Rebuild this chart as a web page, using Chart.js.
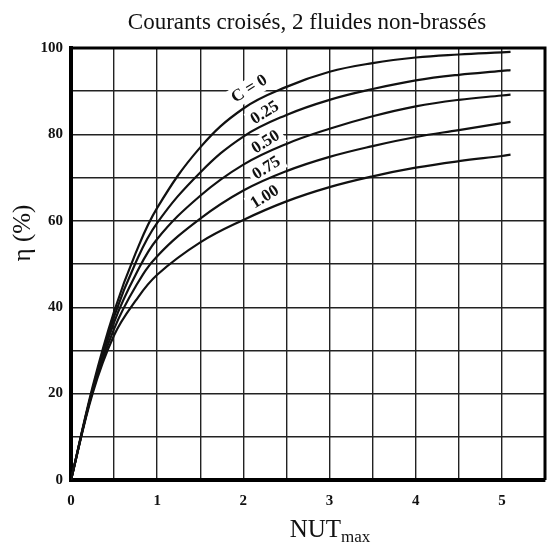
<!DOCTYPE html>
<html>
<head>
<meta charset="utf-8">
<script src="https://cdn.jsdelivr.net/npm/chart.js@4"></script>
<style>
html,body{margin:0;padding:0;background:#fff;}
#wrap{width:557px;height:544px;position:relative;}
</style>
</head>
<body>
<div id="wrap"><canvas id="c" width="557" height="544"></canvas></div>
<script>
// ---- data ----
const ntu = [0, 0.25, 0.5, 0.75, 1, 1.5, 2, 2.5, 3, 3.5, 4, 4.5, 5, 5.1];
const etaC000 = [0, 21.5, 39, 52.5, 63, 77, 86, 91, 94.5, 96.5, 97.8, 98.5, 99, 99.1];
const etaC025 = [0, 21, 37.8, 50.3, 59.5, 71.2, 79.5, 84.5, 88, 90.5, 92.5, 93.8, 94.7, 94.9];
const etaC050 = [0, 20.8, 36.5, 47.5, 55.8, 65.8, 73, 77.8, 81.3, 84.2, 86.5, 88, 89, 89.2];
const etaC075 = [0, 20.5, 35, 44.8, 51.8, 60.5, 67, 71.5, 74.8, 77.3, 79.4, 81, 82.6, 82.9];
const etaC100 = [0, 20, 33.5, 41.5, 47.5, 55, 60.2, 64.5, 67.8, 70.3, 72.3, 73.8, 75, 75.3];
const curveLabels = ["C = 0", "0.25", "0.50", "0.75", "1.00"];
const labelX = [2.07, 2.25, 2.26, 2.27, 2.25];
const labelY = [90.5, 85, 78.2, 72.2, 65.5];
const xTickLabels = [0, 1, 2, 3, 4, 5];
const yTickLabels = [0, 20, 40, 60, 80, 100];
const titleText = "Courants croisés, 2 fluides non-brassés";
const yTitle = "η (%)";
const xTitleMain = "NUT";
const xTitleSub = "max";

const series = [etaC000, etaC025, etaC050, etaC075, etaC100];
const datasets = series.map((s, i) => ({
  label: curveLabels[i],
  data: ntu.map((x, j) => ({x: x, y: s[j]})),
  borderColor: '#111',
  borderWidth: 2.2,
  pointRadius: 0,
  fill: false,
  tension: 0.4
}));

const SERIF = '"Liberation Serif", "DejaVu Serif", serif';
const LABEL_FONT = 'bold 17px ' + SERIF;

const decor = {
  id: 'decor',
  beforeDatasetsDraw(chart) {
    const ctx = chart.ctx, xs = chart.scales.x, ys = chart.scales.y;
    ctx.save();
    ctx.font = LABEL_FONT;
    curveLabels.forEach((t, i) => {
      const px = xs.getPixelForValue(labelX[i]);
      const py = ys.getPixelForValue(labelY[i]);
      const w = ctx.measureText(t).width;
      ctx.save();
      ctx.translate(px, py);
      ctx.rotate(-32 * Math.PI / 180);
      ctx.fillStyle = '#fff';
      ctx.fillRect(-w / 2 - 4, -10, w + 8, 20);
      ctx.restore();
    });
    ctx.restore();
  },
  afterDatasetsDraw(chart) {
    const ctx = chart.ctx, xs = chart.scales.x, ys = chart.scales.y, a = chart.chartArea;
    ctx.save();
    ctx.font = LABEL_FONT;
    ctx.fillStyle = '#111';
    ctx.textAlign = 'center';
    ctx.textBaseline = 'middle';
    curveLabels.forEach((t, i) => {
      const px = xs.getPixelForValue(labelX[i]);
      const py = ys.getPixelForValue(labelY[i]);
      ctx.save();
      ctx.translate(px, py);
      ctx.rotate(-32 * Math.PI / 180);
      ctx.fillText(t, 0, 0);
      ctx.restore();
    });
    // top & right frame
    ctx.strokeStyle = '#000';
    ctx.lineWidth = 3;
    ctx.beginPath();
    ctx.moveTo(a.left, a.top);
    ctx.lineTo(a.right, a.top);
    ctx.lineTo(a.right, a.bottom);
    ctx.stroke();
    ctx.restore();
  },
  afterDraw(chart) {
    const ctx = chart.ctx;
    ctx.save();
    ctx.fillStyle = '#111';
    // title
    ctx.font = '23px ' + SERIF;
    ctx.textAlign = 'center';
    ctx.textBaseline = 'alphabetic';
    ctx.fillText(titleText, 307, 29);
    // y title
    ctx.save();
    ctx.translate(30, 233);
    ctx.rotate(-Math.PI / 2);
    ctx.font = '25px ' + SERIF;
    ctx.textAlign = 'center';
    ctx.fillText(yTitle, 0, 0);
    ctx.restore();
    // x title with subscript
    ctx.font = '25px ' + SERIF;
    const w1 = ctx.measureText(xTitleMain).width;
    ctx.font = '17px ' + SERIF;
    const w2 = ctx.measureText(xTitleSub).width;
    const x0 = 330 - (w1 + w2) / 2;
    ctx.textAlign = 'left';
    ctx.font = '25px ' + SERIF;
    ctx.fillText(xTitleMain, x0, 537);
    ctx.font = '17px ' + SERIF;
    ctx.fillText(xTitleSub, x0 + w1, 542);
    ctx.restore();
  }
};

new Chart(document.getElementById('c'), {
  type: 'line',
  data: { datasets: datasets },
  options: {
    responsive: false,
    animation: false,
    layout: { padding: { top: 48, right: 5, left: 0, bottom: 0 } },
    plugins: { legend: { display: false }, title: { display: false }, tooltip: { enabled: false } },
    scales: {
      x: {
        type: 'linear', min: 0, max: 5.5,
        afterFit(s) { s.height = 64; },
        ticks: {
          stepSize: 0.5, padding: 12, color: '#111',
          font: { family: SERIF, size: 15, weight: 'bold' },
          maxRotation: 0, autoSkip: false,
          callback: v => (xTickLabels.includes(v) ? String(v) : '')
        },
        grid: { color: '#222', lineWidth: 1.4, drawTicks: false },
        border: { color: '#000', width: 4 }
      },
      y: {
        type: 'linear', min: 0, max: 100,
        afterFit(s) { s.width = 71; },
        ticks: {
          stepSize: 10, padding: 8, color: '#111',
          font: { family: SERIF, size: 15, weight: 'bold' },
          callback: v => (yTickLabels.includes(v) ? String(v) : '')
        },
        grid: { color: '#222', lineWidth: 1.4, drawTicks: false },
        border: { color: '#000', width: 4 }
      }
    }
  },
  plugins: [decor]
});
</script>
</body>
</html>
